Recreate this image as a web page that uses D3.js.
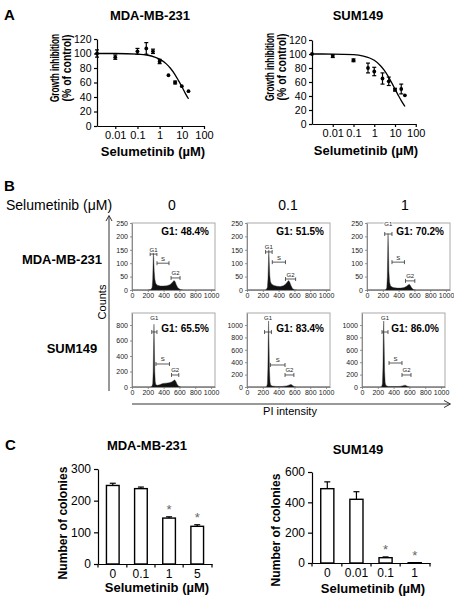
<!DOCTYPE html>
<html><head><meta charset="utf-8">
<script src="https://cdn.jsdelivr.net/npm/d3@7/dist/d3.min.js"></script>
<style>
body{margin:0;background:#fff}
text{font-family:"Liberation Sans",Arial,Helvetica,sans-serif}
</style>
</head><body>
<svg id="c" width="454" height="600" xmlns="http://www.w3.org/2000/svg"></svg>
<script>
// ---------------- DATA ----------------
// Panel A : growth inhibition dose-response
const doseA_MDA   = [0.0015, 0.01, 0.1, 0.25, 0.5, 1, 2.5, 5, 10, 20];
const growthA_MDA = [100, 95, 103, 107, 103, 89, 70, 60, 55, 48];
const errA_MDA    = [5, 3, 4, 8, 3, 3, 0, 2, 0, 0];
const fitA_MDA_x  = [0.0015, 0.01, 0.1, 0.3, 0.6, 1, 2, 3, 5, 7, 10, 15, 20];
const fitA_MDA_y  = [100, 100, 99.2, 97.6, 95, 92.3, 85.7, 80, 70.6, 63, 54.5, 44, 37.5];

const doseA_SUM   = [0.001, 0.01, 0.1, 0.5, 1, 2.5, 5, 10, 20, 30];
const growthA_SUM = [100, 97, 91, 80, 75, 65, 61, 49, 50, 41];
const errA_SUM    = [0, 2, 2, 7, 6, 8, 6, 2, 7, 0];
const fitA_SUM_x  = [0.001, 0.01, 0.1, 0.3, 0.6, 1, 2, 3, 5, 7, 10, 15, 20, 30];
const fitA_SUM_y  = [100, 99.9, 99, 97, 94.3, 91, 83.3, 77, 66.7, 58.8, 50, 40, 33.3, 25];

const tickA_y = [0, 20, 40, 60, 80, 100, 120];
const tickA_x = [0.01, 0.1, 1, 10, 100];

// Panel B : cell-cycle histograms  [PI channel, counts]
const flowCells = ["MDA-MB-231", "SUM149"];
const flowDoses = ["0", "0.1", "1"];
const flowG1 = [["G1: 48.4%", "G1: 51.5%", "G1: 70.2%"], ["G1: 65.5%", "G1: 83.4%", "G1: 86.0%"]];
const histMDA_0 = [[0,0],[200,0],[240,2],[255,10],[262,40],[267,100],[270,138],[275,120],[281,70],[289,40],[300,25],[320,18],[360,15],[400,15],[440,16],[480,20],[510,28],[530,35],[545,32],[560,20],[580,8],[610,2],[650,0],[1050,0]];
const histMDA_01 = [[0,0],[230,0],[245,2],[258,10],[265,40],[272,110],[276,150],[281,110],[288,55],[296,32],[310,22],[340,17],[380,14],[420,13],[460,16],[490,22],[510,30],[525,35],[540,30],[555,18],[575,6],[600,1],[640,0],[1050,0]];
const histMDA_1 = [[0,0],[225,0],[240,2],[250,8],[257,50],[262,150],[266,210],[271,160],[277,70],[285,30],[298,15],[330,9],[380,7],[430,7],[470,9],[500,14],[520,19],[535,21],[550,16],[565,8],[585,2],[620,0],[1050,0]];
const histSUM_0 = [[0,0],[230,0],[250,5],[262,40],[268,200],[273,550],[278,810],[283,550],[288,200],[294,70],[302,30],[320,22],[350,30],[390,45],[430,50],[470,55],[500,65],[520,78],[540,92],[555,72],[570,35],[590,10],[620,0],[1050,0]];
const histSUM_01 = [[0,0],[230,0],[248,5],[258,50],[264,300],[269,800],[273,1080],[278,750],[284,280],[291,80],[300,30],[320,15],[360,10],[400,8],[450,10],[500,18],[530,30],[550,40],[565,38],[580,22],[600,6],[630,0],[1050,0]];
const histSUM_1 = [[0,0],[230,0],[248,5],[258,50],[265,320],[270,850],[275,1090],[280,720],[286,260],[293,70],[302,25],[330,10],[380,7],[430,7],[480,10],[510,18],[530,26],[545,30],[560,22],[580,8],[610,0],[1050,0]];
const flowHist = [[histMDA_0, histMDA_01, histMDA_1], [histSUM_0, histSUM_01, histSUM_1]];
const flowYMax = [[250, 250, 250], [955, 1194, 1194]];
const flowYTicks = [[0,50,100,150,200,250], [0,200,400,600,800], [0,200,400,600,800,1000]];
const flowXTicks = [0, 200, 400, 600, 800, 1000];
// gates: name, start, end, level (counts), optional label level
const flowGates = [
  [
    [["G1",230,315,134],["S",316,468,100],["G2",494,608,45]],
    [["G1",235,318,142],["S",320,487,104],["G2",487,615,41]],
    [["G1",224,316,209,246],["S",316,474,104],["G2",487,605,34]]
  ],
  [
    [["G1",250,316,710,888],["S",303,474,297],["G2",500,592,155]],
    [["G1",222,309,887,1110],["S",296,481,355],["G2",481,593,194]],
    [["G1",253,329,887,1110],["S",342,506,387],["G2",506,620,194]]
  ]
];

// Panel C : colony formation
const doseC_MDA = ["0", "0.1", "1", "5"];
const colC_MDA  = [248, 238, 145, 119];
const errC_MDA  = [7, 5, 4, 5];
const sigC_MDA  = [false, false, true, true];
const doseC_SUM = ["0", "0.01", "0.1", "1"];
const colC_SUM  = [490, 420, 35, 2];
const errC_SUM  = [45, 50, 5, 0];
const sigC_SUM  = [false, false, true, true];
const tickC_MDA = [0, 100, 200, 300];
const tickC_SUM = [0, 200, 400, 600];

// ---------------- DRAW ----------------
const svg = d3.select("#c");
svg.append("rect").attr("width", 454).attr("height", 600).attr("fill", "#fff");

function txt(g, s, x, y, o = {}) {
  const t = g.append("text").attr("x", x).attr("y", y).text(s)
    .attr("font-size", o.size || 12)
    .attr("font-weight", o.bold ? "bold" : "normal")
    .attr("text-anchor", o.anchor || "middle")
    .attr("fill", o.fill || "#000");
  return t;
}
function vtext(g, s, cx, cy, size, sx) {
  // vertical bold title, horizontally condensed like the original
  return g.append("text").attr("transform", `translate(${cx},${cy}) rotate(-90) scale(${sx},1)`)
    .attr("text-anchor", "middle").attr("dy", "0.35em").attr("font-size", size)
    .attr("font-weight", "bold").text(s);
}
function styleAxis(a, size, col = "#000", sw = 1.2, tcol = "#000") {
  a.attr("font-family", null).attr("font-size", null);
  a.select(".domain").attr("stroke", col).attr("stroke-width", sw);
  a.selectAll(".tick line").attr("stroke", col).attr("stroke-width", sw);
  a.selectAll(".tick text").attr("font-size", size).attr("fill", tcol)
    .style("font-family", '"Liberation Sans",Arial,sans-serif');
}

// panel letters
txt(svg, "A", 4, 20, {size: 15, bold: true, anchor: "start"});
txt(svg, "B", 4, 191, {size: 15, bold: true, anchor: "start"});
txt(svg, "C", 5, 450, {size: 15, bold: true, anchor: "start"});

// ---- Panel A
function doseResponse(cfg) {
  const g = svg.append("g");
  const x = d3.scaleLog().domain(cfg.xDomain).range(cfg.xRange);
  const y = d3.scaleLinear().domain([0, 120]).range([cfg.y0, cfg.y120]);
  const ya = g.append("g").attr("transform", `translate(${cfg.xRange[0]},0)`)
    .call(d3.axisLeft(y).tickValues(tickA_y).tickSize(3).tickSizeOuter(0).tickPadding(2.5));
  styleAxis(ya, 10.5);
  const xa = g.append("g").attr("transform", `translate(0,${cfg.y0})`)
    .call(d3.axisBottom(x).tickValues(tickA_x).tickFormat(d => String(d)).tickSize(3).tickSizeOuter(0).tickPadding(2.5));
  styleAxis(xa, 11);
  // fitted curve
  const fit = cfg.fx.map((v, i) => [v, cfg.fy[i]]);
  g.append("path").datum(fit)
    .attr("d", d3.line().x(d => x(d[0])).y(d => y(d[1])).curve(d3.curveMonotoneX))
    .attr("fill", "none").attr("stroke", "#000").attr("stroke-width", 1.3);
  // error bars & points
  const pts = cfg.dose.map((d, i) => ({d, v: cfg.val[i], e: cfg.err[i]}));
  const eb = g.selectAll(".eb").data(pts.filter(p => p.e > 0)).enter().append("g");
  eb.append("line").attr("x1", p => x(p.d)).attr("x2", p => x(p.d))
    .attr("y1", p => y(p.v - p.e)).attr("y2", p => y(p.v + p.e)).attr("stroke", "#000").attr("stroke-width", 1.2);
  [-1, 1].forEach(s => eb.append("line").attr("x1", p => x(p.d) - 2).attr("x2", p => x(p.d) + 2)
    .attr("y1", p => y(p.v + s * p.e)).attr("y2", p => y(p.v + s * p.e)).attr("stroke", "#000").attr("stroke-width", 1.2));
  g.selectAll(".pt").data(pts).enter().append("circle")
    .attr("cx", p => x(p.d)).attr("cy", p => y(p.v)).attr("r", 1.9).attr("fill", "#000");
  // titles
  txt(g, cfg.title, cfg.titleX, 19.5, {size: 13, bold: true});
  txt(g, "Selumetinib (µM)", cfg.xtX, cfg.xtY, {size: 13, bold: true});
  vtext(g, "Growth inhibition", cfg.ytX1, cfg.ytY, 12.5, 0.66);
  vtext(g, "(% of control)", cfg.ytX2, cfg.ytY, 12.5, 0.83);
}
doseResponse({xDomain: [0.0015, 100], xRange: [97, 204], y0: 126, y120: 39,
  dose: doseA_MDA, val: growthA_MDA, err: errA_MDA, fx: fitA_MDA_x, fy: fitA_MDA_y,
  title: "MDA-MB-231", titleX: 150, xtX: 153, xtY: 156, ytX1: 55, ytX2: 67, ytY: 68});
doseResponse({xDomain: [0.001, 100], xRange: [312, 415.75], y0: 124, y120: 40,
  dose: doseA_SUM, val: growthA_SUM, err: errA_SUM, fx: fitA_SUM_x, fy: fitA_SUM_y,
  title: "SUM149", titleX: 358, xtX: 366, xtY: 154.5, ytX1: 270, ytX2: 282, ytY: 67});

// ---- Panel B
txt(svg, "Selumetinib (μM)", 6, 210, {size: 14, anchor: "start"});
const colX = [172, 288, 405];
flowDoses.forEach((d, i) => txt(svg, d, colX[i], 210, {size: 14}));
txt(svg, flowCells[0], 62, 264, {size: 13, bold: true});
txt(svg, flowCells[1], 72, 352.5, {size: 13, bold: true});

const rowGeom = [{top: 223, bot: 290, ax: [132, 247, 367]}, {top: 313, bot: 387, ax: [132, 247, 362]}];
const boxW = 83;
flowHist.forEach((row, r) => {
  row.forEach((hist, c) => {
    const gm = rowGeom[r];
    const ax = gm.ax[c];
    const g = svg.append("g");
    const x = d3.scaleLinear().domain([0, 1050]).range([ax, ax + boxW]);
    const y = d3.scaleLinear().domain([0, flowYMax[r][c]]).range([gm.bot, gm.top]);
    const cid = `clip${r}${c}`;
    g.append("clipPath").attr("id", cid).append("rect")
      .attr("x", ax).attr("y", gm.top).attr("width", boxW).attr("height", gm.bot - gm.top);
    g.append("rect").attr("x", ax).attr("y", gm.top).attr("width", boxW).attr("height", gm.bot - gm.top)
      .attr("fill", "none").attr("stroke", "#aaa").attr("stroke-width", 1);
    g.append("path").datum(hist).attr("clip-path", `url(#${cid})`)
      .attr("d", d3.area().x(d => x(d[0])).y0(gm.bot).y1(d => y(d[1])))
      .attr("fill", "#111").attr("stroke", "#333").attr("stroke-width", 0.4);
    const yt = r === 0 ? flowYTicks[0] : (c === 0 ? flowYTicks[1] : flowYTicks[2]);
    const ya = g.append("g").attr("transform", `translate(${ax},0)`)
      .call(d3.axisLeft(y).tickValues(yt).tickFormat(d => String(d)).tickSize(2).tickSizeOuter(0).tickPadding(2));
    styleAxis(ya, 7, "#777", 0.8, "#222");
    const xa = g.append("g").attr("transform", `translate(0,${gm.bot})`)
      .call(d3.axisBottom(x).tickValues(flowXTicks).tickFormat(d => String(d)).tickSize(2).tickSizeOuter(0).tickPadding(1.5));
    styleAxis(xa, 7, "#777", 0.8, "#222");
    // gates
    flowGates[r][c].forEach(gt => {
      const [nm, a, b, lv, lab] = gt;
      const yy = y(lv);
      g.append("line").attr("x1", x(a)).attr("x2", x(b)).attr("y1", yy).attr("y2", yy)
        .attr("stroke", "#333").attr("stroke-width", 0.8);
      [a, b].forEach(v => g.append("line").attr("x1", x(v)).attr("x2", x(v)).attr("y1", yy - 2).attr("y2", yy + 2)
        .attr("stroke", "#333").attr("stroke-width", 0.8));
      const ly = lab !== undefined ? y(lab) + 2 : yy - 2.5;
      txt(g, nm, x((a + b) / 2), ly, {size: 6, fill: "#222"})
        .attr("stroke", "#fff").attr("stroke-width", 2).attr("paint-order", "stroke");
    });
    txt(g, flowG1[r][c], ax + boxW - 6, gm.top + (r === 0 ? 12 : 18.5), {size: 10, bold: true, anchor: "end"});
  });
});
// Counts arrow and PI intensity arrow
const arrowG = svg.append("g").attr("stroke", "#333").attr("stroke-width", 1).attr("fill", "none");
arrowG.append("line").attr("x1", 109).attr("x2", 109).attr("y1", 391).attr("y2", 216);
arrowG.append("path").attr("d", "M106,221 L109,215.5 L112,221");
arrowG.append("line").attr("x1", 132).attr("x2", 450).attr("y1", 404).attr("y2", 404);
arrowG.append("path").attr("d", "M444,400.5 L450.5,404 L444,407.5");
svg.append("text").attr("transform", "translate(102,302) rotate(-90)").attr("text-anchor", "middle")
  .attr("dy", "0.35em").attr("font-size", 11).text("Counts");
txt(svg, "PI intensity", 290, 415, {size: 11});

// ---- Panel C
function barChart(cfg) {
  const g = svg.append("g");
  const x = d3.scaleBand().domain(cfg.cats).range(cfg.xRange).paddingInner(0.55).paddingOuter(0.3);
  const y = d3.scaleLinear().domain([0, cfg.yMax]).range([cfg.y0, cfg.yTop]);
  const ya = g.append("g").attr("transform", `translate(${cfg.xRange[0]},0)`)
    .call(d3.axisLeft(y).tickValues(cfg.ticks).tickSize(4).tickSizeOuter(0).tickPadding(3));
  styleAxis(ya, 12);
  const xa = g.append("g").attr("transform", `translate(0,${cfg.y0})`)
    .call(d3.axisBottom(x).tickSize(0).tickSizeOuter(0).tickPadding(5));
  styleAxis(xa, 12);
  // boundary tick marks
  const step = x.step();
  const bounds = [cfg.xRange[0]].concat(cfg.cats.slice(1).map(c => x(c) + x.bandwidth() / 2 - step / 2), [cfg.xRange[1]]);
  g.selectAll(".bt").data(bounds).enter().append("line")
    .attr("x1", d => d).attr("x2", d => d).attr("y1", cfg.y0).attr("y2", cfg.y0 + 3.5)
    .attr("stroke", "#000").attr("stroke-width", 1.2);
  const data = cfg.cats.map((c, i) => ({c, v: cfg.vals[i], e: cfg.errs[i], s: cfg.sig[i]}));
  // error bars (upper only)
  data.filter(d => d.e > 0).forEach(d => {
    const cx = x(d.c) + x.bandwidth() / 2;
    g.append("line").attr("x1", cx).attr("x2", cx).attr("y1", y(d.v)).attr("y2", y(d.v + d.e))
      .attr("stroke", "#000").attr("stroke-width", 1.2);
    g.append("line").attr("x1", cx - 3).attr("x2", cx + 3).attr("y1", y(d.v + d.e)).attr("y2", y(d.v + d.e))
      .attr("stroke", "#000").attr("stroke-width", 1.2);
  });
  g.selectAll(".bar").data(data).enter().append("rect")
    .attr("x", d => x(d.c)).attr("width", x.bandwidth())
    .attr("y", d => y(d.v)).attr("height", d => cfg.y0 - y(d.v))
    .attr("fill", "#fff").attr("stroke", "#000").attr("stroke-width", 1.4);
  data.filter(d => d.s).forEach(d => {
    txt(g, "*", x(d.c) + x.bandwidth() / 2, y(d.v + d.e) - 3, {size: 13, fill: "#666"});
  });
  txt(g, cfg.title, cfg.titleX, cfg.titleY, {size: 13, bold: true});
  txt(g, "Selumetinib (µM)", cfg.xtX, cfg.xtY, {size: 13, bold: true});
  vtext(g, "Number of colonies", cfg.ytX, cfg.ytY, 13, 0.93);
}
barChart({cats: doseC_MDA, vals: colC_MDA, errs: errC_MDA, sig: sigC_MDA, ticks: tickC_MDA,
  xRange: [98, 212], y0: 564, yTop: 469, yMax: 300,
  title: "MDA-MB-231", titleX: 147, titleY: 449.5, xtX: 157, xtY: 592, ytX: 62, ytY: 523});
barChart({cats: doseC_SUM, vals: colC_SUM, errs: errC_SUM, sig: sigC_SUM, ticks: tickC_SUM,
  xRange: [312, 430], y0: 563, yTop: 472, yMax: 600,
  title: "SUM149", titleX: 358, titleY: 454, xtX: 373, xtY: 593, ytX: 275, ytY: 530});
</script>
</body></html>
